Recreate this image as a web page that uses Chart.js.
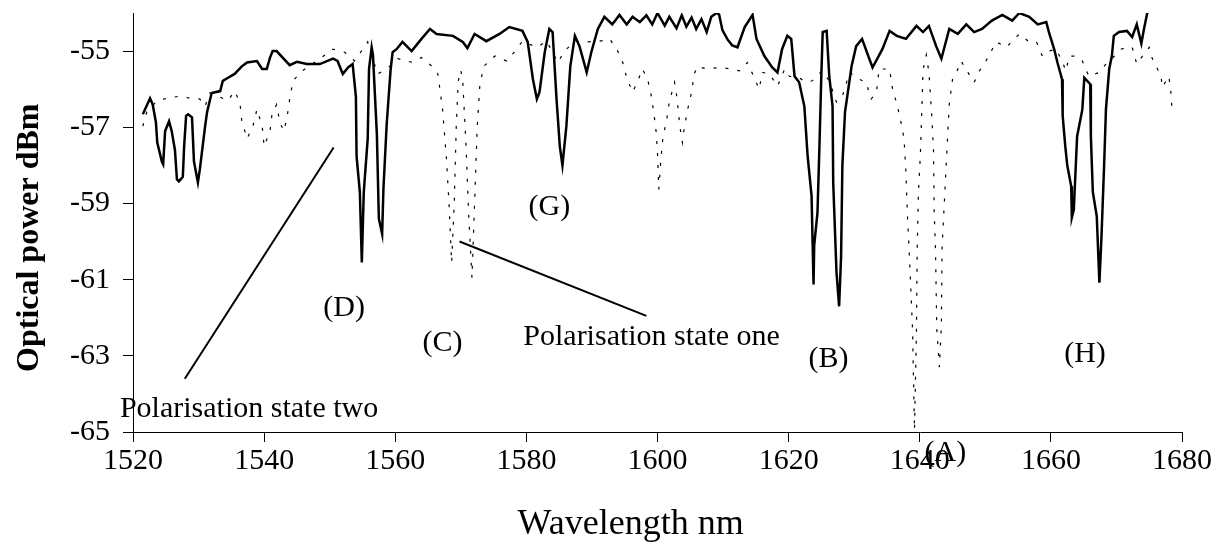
<!DOCTYPE html>
<html>
<head>
<meta charset="utf-8">
<script src="https://cdn.jsdelivr.net/npm/chart.js@4.4.1/dist/chart.umd.min.js"></script>
<style>
  html, body { margin: 0; padding: 0; background: #fff; }
</style>
</head>
<body>
<canvas id="chart" width="1220" height="560"></canvas>
<script>
// Polarisation state two (solid line)
const stateTwoNm = [
  1521.5, 1522.6, 1523.0, 1523.5, 1523.7, 1524.4, 1524.6, 1524.9, 1525.5, 1525.9,
  1526.4, 1526.7, 1527.0, 1527.6, 1527.8, 1528.1, 1528.4, 1529.0, 1529.3, 1529.9,
  1530.2, 1531.0, 1531.3, 1532.0, 1533.3, 1533.7, 1534.5, 1535.5, 1536.6, 1537.4,
  1538.9, 1539.7, 1540.4, 1540.9, 1541.3, 1541.9, 1543.9, 1545.0, 1546.5, 1548.5,
  1550.5, 1551.2, 1552.0, 1552.8, 1553.5, 1554.0, 1554.1, 1554.6, 1554.9, 1555.2,
  1555.8, 1556.0, 1556.4, 1556.6, 1557.2, 1557.5, 1558.0, 1558.2, 1558.7, 1559.3,
  1559.6, 1560.2, 1561.1, 1562.5, 1564.0, 1565.3, 1566.3, 1568.8, 1570.3, 1571.0,
  1572.1, 1573.9, 1575.9, 1577.4, 1579.4, 1580.2, 1581.0, 1581.6, 1582.0, 1582.8,
  1583.5, 1584.0, 1584.6, 1585.1, 1585.5, 1586.1, 1586.7, 1587.4, 1588.1, 1589.2,
  1589.9, 1590.9, 1591.9, 1593.1, 1594.2, 1595.3, 1596.2, 1597.3, 1598.3, 1599.2,
  1600.0, 1601.1, 1601.8, 1602.9, 1603.7, 1604.4, 1605.2, 1605.9, 1606.7, 1607.5,
  1608.2, 1609.0, 1609.4, 1609.9, 1610.7, 1611.4, 1612.2, 1613.3, 1614.5, 1615.1,
  1616.3, 1617.5, 1618.3, 1619.0, 1619.8, 1620.4, 1620.9, 1621.6, 1622.4, 1622.9,
  1623.5, 1623.6, 1623.8, 1623.9, 1624.4, 1624.7, 1625.0, 1625.2, 1625.8, 1626.2,
  1626.7, 1626.8, 1627.3, 1627.7, 1628.0, 1628.2, 1628.6, 1629.6, 1630.3, 1631.2,
  1632.3, 1632.8, 1634.3, 1635.4, 1636.5, 1637.9, 1639.5, 1640.5, 1641.4, 1642.5,
  1643.3, 1644.5, 1645.8, 1647.1, 1648.3, 1649.5, 1651.0, 1652.6, 1654.1, 1655.2,
  1656.7, 1658.0, 1659.3, 1659.7, 1660.5, 1661.0, 1661.7, 1661.8, 1662.2, 1662.5,
  1663.1, 1663.2, 1663.5, 1664.0, 1664.8, 1665.1, 1666.0, 1666.1, 1666.4, 1667.0,
  1667.4, 1667.7, 1668.1, 1668.4, 1668.9, 1669.3, 1669.6, 1670.4, 1671.6, 1672.4,
  1673.1, 1673.8, 1674.2, 1674.7, 1675.3
];
const stateTwoDbm = [
  -56.66, -56.24, -56.40, -56.87, -57.40, -57.90, -57.97, -57.10, -56.84, -57.10,
  -57.60, -58.37, -58.42, -58.30, -57.50, -56.70, -56.66, -56.74, -57.90, -58.45,
  -58.10, -56.97, -56.60, -56.10, -56.05, -55.78, -55.70, -55.60, -55.40, -55.30,
  -55.26, -55.47, -55.47, -55.17, -55.00, -55.00, -55.37, -55.28, -55.34, -55.34,
  -55.20, -55.26, -55.60, -55.43, -55.34, -56.20, -57.76, -58.70, -60.55, -58.70,
  -57.30, -55.47, -54.90, -55.10, -57.20, -59.40, -59.80, -58.60, -56.90, -55.47,
  -55.03, -54.95, -54.76, -55.00, -54.68, -54.42, -54.55, -54.60, -54.76, -54.92,
  -54.55, -54.74, -54.55, -54.37, -54.47, -54.76, -55.74, -56.26, -56.08, -55.03,
  -54.42, -54.50, -56.26, -57.50, -58.00, -56.97, -55.40, -54.60, -54.87, -55.56,
  -55.03, -54.42, -54.10, -54.30, -54.05, -54.30, -54.10, -54.24, -54.06, -54.30,
  -54.00, -54.33, -54.10, -54.40, -54.06, -54.36, -54.12, -54.42, -54.16, -54.50,
  -54.10, -54.00, -54.04, -54.45, -54.70, -54.85, -54.90, -54.37, -54.05, -54.68,
  -55.13, -55.43, -55.56, -54.95, -54.60, -54.68, -55.66, -55.82, -56.45, -57.76,
  -58.80, -59.60, -61.13, -60.10, -59.24, -57.50, -55.56, -54.50, -54.47, -55.66,
  -56.45, -58.45, -60.80, -61.70, -60.40, -58.00, -56.60, -55.40, -54.87, -54.68,
  -55.20, -55.43, -54.95, -54.47, -54.60, -54.68, -54.34, -54.50, -54.34, -54.87,
  -55.20, -54.42, -54.55, -54.30, -54.50, -54.42, -54.20, -54.05, -54.20, -54.00,
  -54.10, -54.30, -54.24, -54.50, -54.95, -55.30, -55.74, -56.70, -57.50, -58.00,
  -58.55, -59.37, -59.16, -57.24, -56.53, -55.70, -55.87, -57.24, -58.70, -59.34,
  -61.08, -59.95, -58.10, -56.53, -55.47, -55.13, -54.60, -54.50, -54.47, -54.63,
  -54.30, -54.80, -54.42, -54.00, -53.70
];

// Polarisation state one (dotted line)
const stateOneNm = [
  1521.5, 1522.1, 1523.7, 1525.2, 1527.2, 1528.7, 1530.2, 1531.0, 1531.7, 1533.3,
  1534.5, 1535.5, 1536.3, 1536.6, 1537.4, 1538.3, 1538.9, 1539.7, 1540.0, 1540.9,
  1541.2, 1541.9, 1542.4, 1543.0, 1543.5, 1543.9, 1544.4, 1545.8, 1548.5, 1550.5,
  1552.3, 1553.8, 1555.8, 1557.3, 1558.7, 1560.4, 1562.7, 1564.0, 1565.6, 1566.5,
  1567.2, 1567.8, 1568.2, 1568.6, 1569.0, 1569.3, 1569.6, 1570.0, 1570.3, 1570.8,
  1571.2, 1571.7, 1572.1, 1572.5, 1572.9, 1573.5, 1575.2, 1577.0, 1578.5, 1579.4,
  1581.6, 1583.1, 1584.8, 1585.8, 1587.4, 1589.2, 1591.2, 1592.7, 1593.8, 1594.7,
  1595.3, 1596.2, 1597.0, 1597.7, 1598.5, 1599.1, 1599.5, 1599.8, 1600.0, 1600.2,
  1600.5, 1600.8, 1601.4, 1601.8, 1602.6, 1603.0, 1603.4, 1603.8, 1604.1, 1604.6,
  1605.2, 1605.6, 1606.1, 1607.5, 1609.4, 1611.4, 1612.5, 1613.7, 1614.5, 1615.5,
  1616.0, 1617.1, 1618.3, 1619.4, 1620.1, 1621.6, 1622.7, 1623.6, 1625.1, 1626.2,
  1627.3, 1628.2, 1629.3, 1630.8, 1631.8, 1632.6, 1633.4, 1633.8, 1635.4, 1635.8,
  1636.6, 1637.2, 1637.6, 1637.9, 1638.1, 1638.4, 1638.9, 1639.2, 1639.5, 1639.6,
  1639.8, 1640.1, 1640.4, 1640.5, 1641.0, 1641.4, 1641.8, 1642.1, 1642.2, 1642.4,
  1642.6, 1643.0, 1643.3, 1643.4, 1644.0, 1644.5, 1645.0, 1645.6, 1646.3, 1647.2,
  1648.3, 1649.1, 1650.1, 1650.9, 1651.7, 1653.2, 1654.1, 1655.2, 1656.7, 1657.8,
  1658.7, 1659.7, 1660.8, 1661.7, 1662.3, 1662.8, 1663.8, 1664.8, 1665.8, 1667.4,
  1668.4, 1669.3, 1670.7, 1671.6, 1672.4, 1673.1, 1673.8, 1675.0, 1675.4, 1676.8,
  1677.0, 1678.0, 1678.3, 1678.5
];
const stateOneDbm = [
  -56.97, -56.60, -56.30, -56.24, -56.18, -56.24, -56.26, -56.45, -56.10, -56.21,
  -56.30, -56.05, -56.34, -56.84, -57.30, -56.97, -56.53, -56.97, -57.50, -57.10,
  -56.66, -56.40, -56.87, -57.10, -56.74, -56.26, -55.78, -55.52, -55.20, -54.95,
  -55.03, -55.26, -54.76, -55.60, -55.47, -55.20, -55.30, -55.17, -55.40, -55.60,
  -56.50, -57.80, -59.00, -60.55, -59.00, -57.00, -55.80, -55.50, -55.80, -57.50,
  -59.30, -60.95, -59.00, -57.00, -55.90, -55.40, -55.13, -55.26, -54.95, -54.74,
  -54.90, -54.74, -55.30, -55.00, -54.74, -54.76, -54.74, -54.68, -54.95, -55.30,
  -55.70, -56.08, -55.78, -55.47, -55.74, -56.21, -56.70, -57.13, -57.66, -58.63,
  -57.90, -57.30, -56.80, -56.34, -55.82, -56.26, -56.97, -57.40, -57.00, -56.53,
  -56.08, -55.60, -55.40, -55.47, -55.43, -55.47, -55.52, -55.30, -55.60, -56.00,
  -55.56, -55.60, -55.92, -55.47, -55.66, -55.70, -55.82, -55.78, -55.52, -55.78,
  -56.34, -56.18, -55.56, -55.74, -55.82, -56.26, -56.08, -55.47, -55.47, -55.95,
  -56.45, -56.92, -57.30, -58.20, -59.24, -60.30, -62.30, -64.95, -62.30, -60.30,
  -58.70, -57.70, -56.10, -55.50, -55.10, -55.56, -56.60, -57.60, -59.20, -60.20,
  -62.30, -63.30, -62.20, -60.20, -58.10, -56.40, -55.74, -55.56, -55.26, -55.52,
  -55.82, -55.52, -55.26, -55.00, -54.76, -54.90, -54.74, -54.55, -54.76, -54.76,
  -55.13, -55.00, -54.95, -55.26, -55.52, -55.13, -55.13, -55.26, -55.66, -55.56,
  -55.34, -55.20, -54.95, -54.90, -54.90, -55.34, -55.17, -54.90, -55.17, -55.66,
  -55.95, -55.66, -56.08, -56.60
];

// Axis ticks
const xTicks = [1520, 1540, 1560, 1580, 1600, 1620, 1640, 1660, 1680];
const yTicks = [-65, -63, -61, -59, -57, -55];

// Axis titles
const xTitle = 'Wavelength nm';
const yTitle = 'Optical power dBm';

// Text labels on the plot
const labelText = ['Polarisation state two', '(D)', '(C)', '(G)', 'Polarisation state one', '(B)', '(A)', '(H)'];
const labelNm = [1537.7, 1552.2, 1567.2, 1583.5, 1599.1, 1626.1, 1643.9, 1665.2];
const labelDbm = [-64.39, -61.74, -62.66, -59.1, -62.5, -63.08, -65.55, -62.95];

// Pointer lines from labels to curves
const pointerTwoNm = [1527.9, 1550.6];
const pointerTwoDbm = [-63.6, -57.53];
const pointerOneNm = [1569.8, 1598.3];
const pointerOneDbm = [-60.0, -61.95];

const serif = '"Liberation Serif", "Times New Roman", serif';

const toPoints = (xs, ys) => xs.map((x, i) => ({ x: x, y: ys[i] }));

// rótulos de texto e títulos dos eixos
const labelPlugin = {
  id: 'labels',
  afterDraw(chart) {
    const ctx = chart.ctx;
    const xs = chart.scales.x;
    const ys = chart.scales.y;
    ctx.save();
    ctx.fillStyle = '#000';
    ctx.font = '30px ' + serif;
    ctx.textAlign = 'center';
    ctx.textBaseline = 'middle';
    labelText.forEach((t, i) => {
      ctx.fillText(t, xs.getPixelForValue(labelNm[i]), ys.getPixelForValue(labelDbm[i]));
    });

    // título do eixo x
    ctx.font = '36px ' + serif;
    ctx.fillText(xTitle, xs.getPixelForValue(1595.9), chart.height - 35);

    // título do eixo y
    ctx.font = 'bold 32px ' + serif;
    ctx.translate(30, ys.getPixelForValue(-59.9));
    ctx.rotate(-Math.PI / 2);
    ctx.fillText(yTitle, 0, 0);
    ctx.restore();
  }
};

const axisStyle = {
  grid: { display: true, drawOnChartArea: false, drawTicks: true, tickLength: 10, color: '#000', lineWidth: 1 },
  border: { display: true, color: '#000', width: 1 },
};

const ctx = document.getElementById('chart').getContext('2d');
const chart = new Chart(ctx, {
  type: 'line',
  data: {
    datasets: [
      {
        label: 'Polarisation state two',
        data: toPoints(stateTwoNm, stateTwoDbm),
        borderColor: '#000',
        borderWidth: 2.5,
        pointRadius: 0,
        tension: 0,
        fill: false
      },
      {
        label: 'Polarisation state one',
        data: toPoints(stateOneNm, stateOneDbm),
        borderColor: '#000',
        borderWidth: 1.2,
        borderDash: [3, 9],
        pointRadius: 0,
        tension: 0,
        fill: false
      },
      {
        data: toPoints(pointerTwoNm, pointerTwoDbm),
        borderColor: '#000',
        borderWidth: 2,
        pointRadius: 0,
        fill: false
      },
      {
        data: toPoints(pointerOneNm, pointerOneDbm),
        borderColor: '#000',
        borderWidth: 2,
        pointRadius: 0,
        fill: false
      }
    ]
  },
  options: {
    responsive: false,
    animation: false,
    layout: { padding: { top: 13, right: 38, left: 0, bottom: 0 } },
    plugins: {
      legend: { display: false },
      tooltip: { enabled: false }
    },
    scales: {
      x: {
        type: 'linear',
        min: 1520,
        max: 1680,
        ...axisStyle,
        afterBuildTicks: (scale) => { scale.ticks = xTicks.map(v => ({ value: v })); },
        afterFit: (scale) => {
          scale.height = 128;
          scale.paddingLeft = 0;
          scale.paddingRight = 0;
        },
        ticks: {
          padding: 1,
          maxRotation: 0,
          color: '#000',
          font: { family: serif, size: 30 },
          callback: (value) => String(value)
        }
      },
      y: {
        type: 'linear',
        min: -65,
        max: -54,
        ...axisStyle,
        afterBuildTicks: (scale) => { scale.ticks = yTicks.map(v => ({ value: v })); },
        afterFit: (scale) => {
          scale.width = 133;
          scale.paddingTop = 0;
          scale.paddingBottom = 0;
        },
        ticks: {
          padding: 13,
          color: '#000',
          font: { family: serif, size: 30 },
          callback: (value) => String(value)
        }
      }
    }
  },
  plugins: [labelPlugin]
});
</script>
</body>
</html>
